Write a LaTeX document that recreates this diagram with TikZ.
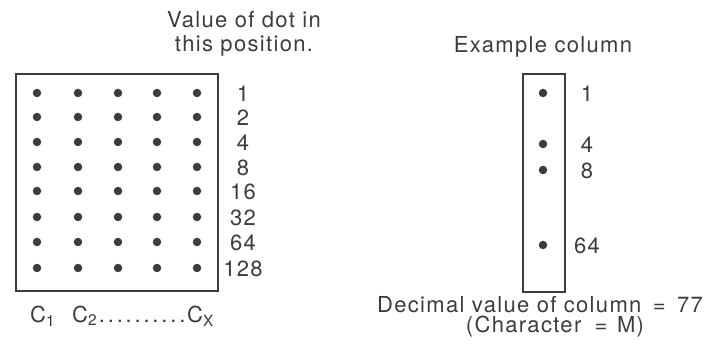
\documentclass[tikz,border=0pt]{standalone}
\usepackage{fontspec}
\setmainfont{TeX Gyre Heros}[LetterSpace=6]
\usetikzlibrary{positioning}
\definecolor{inkGray}{RGB}{60,60,60}

\begin{document}
\begin{tikzpicture}[
    x=1pt, y=-1pt,
    lbl/.style={inner sep=0pt, font=\fontsize{22}{23.5}\selectfont, text=inkGray},
    frame/.style={draw=inkGray, line width=1.4pt, inner sep=0pt},
    pin/.style={circle, fill=inkGray, inner sep=0pt, minimum size=8.5pt}
]
\useasboundingbox (0,0) rectangle (705,350);

% matrix of dots
\node[frame, minimum width=202pt, minimum height=217pt] (grid) at (117,182.5) {};
\node[lbl, align=center] (head) at (244,34) {Value of dot in\\this position.};
\foreach \c/\x in {1/37,2/78,3/118,4/157,5/197}
  \foreach \r/\y in {1/93,2/117,3/142,4/167,5/191,6/217,7/242,8/268}
    \node[pin] (d-\c-\r) at (\x,\y) {};
\foreach \v/\y in {1/94,2/118,4/143,8/168,16/192,32/218,64/243,128/269}
  \node[lbl] (val-\v) at (243,\y) {\v};
\node[lbl, anchor=west] (c1) at (30,316) {C\textsubscript{1}};
\node[lbl, anchor=west] (cx) at (72,316)
  {C\textsubscript{2}\hbox to 90pt{\xleaders\hbox to 8.2pt{\hss.\hss}\hfill}C\textsubscript{X}};

% example column
\node[lbl] (ex) at (543,47) {Example column};
\node[frame, minimum width=42pt, minimum height=218pt] (col) at (544,183) {};
\foreach \v/\y in {1/93,4/144,8/170,64/245}{
  \node[pin] (e-\v) at (543,\y) {};
  \node[lbl] (ev-\v) at (587,\y+1) {\v};
}
\node[lbl] (dec) at (540,305) {Decimal value of column\hspace{4pt} = \hspace{4pt}77};
\node[lbl] (chr) at (555,327) {(Character\hspace{6pt} = \hspace{2pt}M)};
\end{tikzpicture}
\end{document}
